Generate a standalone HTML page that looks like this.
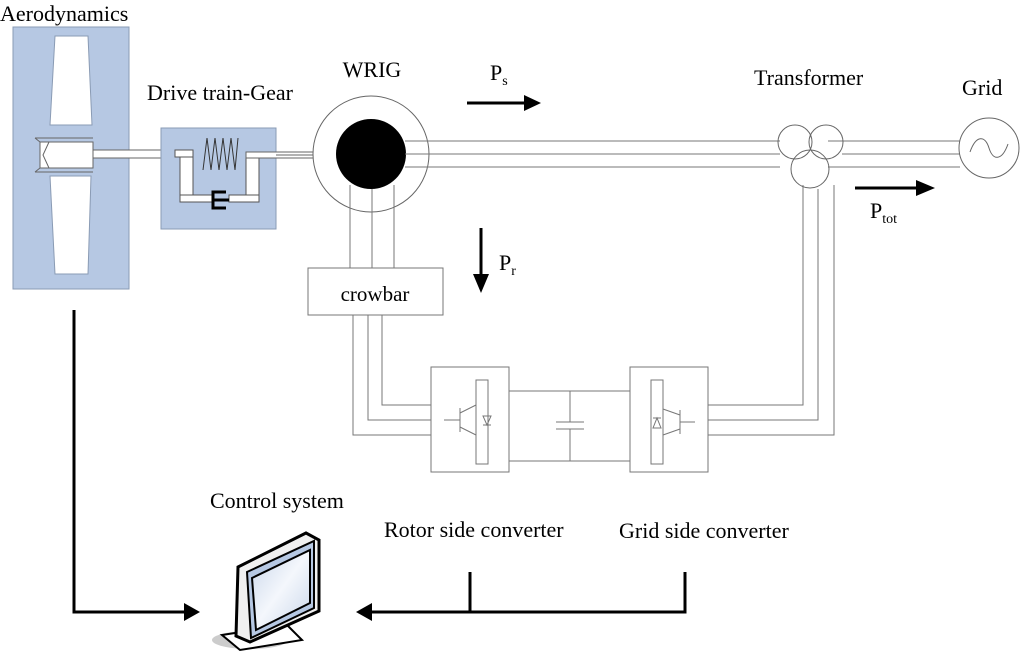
<!DOCTYPE html>
<html><head><meta charset="utf-8"><style>
html,body{margin:0;padding:0;background:#fff}
svg{display:block}
text{font-family:"Liberation Serif",serif;fill:#000}
</style></head><body>
<svg width="1024" height="659" viewBox="0 0 1024 659" xmlns="http://www.w3.org/2000/svg">
<defs>
<linearGradient id="scr" x1="0" y1="0" x2="1" y2="1"><stop offset="0" stop-color="#c9d6ea"/><stop offset="0.5" stop-color="#f4f7fc"/><stop offset="1" stop-color="#c9d6ea"/></linearGradient>
</defs>
<!-- Aerodynamics -->
<rect x="13" y="27" width="116" height="262" fill="#b6c8e3" stroke="#8a9bb4" stroke-width="1"/>
<polygon points="55,36 88,36 92,125 50,125" fill="#fff" stroke="#8a9bb4"/>
<polygon points="50,176 91,176 88,274 55,274" fill="#fff" stroke="#8a9bb4"/>
<rect x="35" y="138" width="58" height="34" fill="#b6c8e3" stroke="none"/>
<rect x="40" y="142" width="53" height="26" fill="#fff" stroke="#666"/>
<polyline points="49,142 43,155 49,168" fill="none" stroke="#666"/>
<line x1="35" y1="138" x2="93" y2="138" stroke="#666"/>
<line x1="35" y1="172" x2="93" y2="172" stroke="#666"/>
<line x1="35" y1="138" x2="40" y2="142" stroke="#666"/>
<line x1="35" y1="172" x2="40" y2="168" stroke="#666"/>
<!-- shaft -->
<rect x="93" y="150" width="98" height="8" fill="#fff" stroke="#666"/>
<!-- Drive train -->
<rect x="161" y="128" width="115" height="101" fill="#b6c8e3" stroke="#8a9bb4"/>
<rect x="180" y="150" width="13" height="46" fill="#fff" stroke="#555"/>
<rect x="246" y="153" width="13" height="43" fill="#fff" stroke="#555"/>
<rect x="180" y="195" width="33" height="7" fill="#fff" stroke="#555"/>
<rect x="229" y="195" width="30" height="7" fill="#fff" stroke="#555"/>
<rect x="175" y="150" width="18" height="7" fill="#fff" stroke="#555"/>
<polyline points="203,170 207,138 211,170 215,138 219,170 223,138 227,170 231,138 235,170 238,138" fill="none" stroke="#333"/>
<path d="M226,192 H213 V208 H226 M213,200 H229" fill="none" stroke="#000" stroke-width="3"/>
<rect x="246" y="152" width="70" height="6" fill="#fff" stroke="#666"/>
<line x1="276" y1="155" x2="338" y2="155" stroke="#666"/>
<!-- WRIG -->
<circle cx="371" cy="154" r="58" fill="#fff" stroke="#666"/>
<circle cx="371" cy="154" r="35" fill="#000"/>
<g stroke="#777" stroke-width="1" fill="none">
<line x1="405" y1="141" x2="780" y2="141"/>
<line x1="405" y1="154" x2="780" y2="154"/>
<line x1="405" y1="167" x2="780" y2="167"/>
<line x1="828" y1="141" x2="960" y2="141"/>
<line x1="842" y1="154" x2="960" y2="154"/>
<line x1="828" y1="167" x2="960" y2="167"/>
<line x1="350" y1="185" x2="350" y2="268"/>
<line x1="372" y1="189" x2="372" y2="268"/>
<line x1="394" y1="185" x2="394" y2="268"/>
<polyline points="353,315 353,435 431,435"/>
<polyline points="368,315 368,420 431,420"/>
<polyline points="382,315 382,405 431,405"/>
<line x1="509" y1="391" x2="630" y2="391"/>
<line x1="509" y1="461" x2="630" y2="461"/>
<line x1="570" y1="391" x2="570" y2="422"/>
<line x1="570" y1="429" x2="570" y2="461"/>
<line x1="556" y1="422" x2="584" y2="422"/>
<line x1="556" y1="429" x2="584" y2="429"/>
<polyline points="708,405 803,405 803,185"/>
<polyline points="708,420 818,420 818,189"/>
<polyline points="708,435 834,435 834,185"/>
</g>
<!-- Transformer -->
<g fill="none" stroke="#666">
<circle cx="795" cy="142" r="17"/>
<circle cx="826" cy="142" r="17"/>
<circle cx="810" cy="169" r="19"/>
<circle cx="989" cy="148" r="30"/>
<path d="M970,152 C976,135 985,135 989,148 C993,161 1002,161 1008,144"/>
</g>
<!-- crowbar -->
<rect x="308" y="268" width="135" height="47" fill="#fff" stroke="#777"/>
<text x="375" y="301" font-size="21" text-anchor="middle">crowbar</text>
<!-- converters -->
<g fill="none" stroke="#777">
<rect x="431" y="367" width="78" height="105" fill="#fff"/>
<rect x="476" y="380" width="12" height="84"/>
<line x1="444" y1="420" x2="460" y2="420"/>
<line x1="460" y1="408" x2="460" y2="432"/>
<line x1="460" y1="413" x2="476" y2="405"/>
<line x1="460" y1="427" x2="476" y2="435"/>
<polygon points="483,416 491,416 487,425"/>
<line x1="483" y1="425" x2="491" y2="425"/>
<rect x="630" y="367" width="78" height="105" fill="#fff"/>
<rect x="651" y="380" width="12" height="84"/>
<line x1="680" y1="422" x2="695" y2="422"/>
<line x1="680" y1="410" x2="680" y2="434"/>
<line x1="680" y1="415" x2="663" y2="409"/>
<line x1="680" y1="429" x2="663" y2="435"/>
<polygon points="653,428 661,428 657,418"/>
<line x1="653" y1="418" x2="661" y2="418"/>
</g>
<!-- power arrows -->
<line x1="467" y1="103" x2="526" y2="103" stroke="#000" stroke-width="3"/>
<polygon points="524,95 541,103 524,111" fill="#000"/>
<line x1="481" y1="228" x2="481" y2="276" stroke="#000" stroke-width="3"/>
<polygon points="473,274 481,293 489,274" fill="#000"/>
<line x1="855" y1="188" x2="918" y2="188" stroke="#000" stroke-width="3"/>
<polygon points="916,180 935,188 916,196" fill="#000"/>
<!-- control lines -->
<g stroke="#000" stroke-width="3" fill="none">
<polyline points="74,310 74,612 186,612"/>
<line x1="470" y1="572" x2="470" y2="612"/>
<polyline points="685,572 685,612 370,612"/>
</g>
<polygon points="184,603 200,612 184,621" fill="#000"/>
<polygon points="372,603 356,612 372,621" fill="#000"/>
<!-- monitor -->
<ellipse cx="250" cy="640" rx="38" ry="9" fill="#ccc"/>
<polygon points="222,635 287,625 302,640 240,650" fill="#fff" stroke="#000" stroke-width="2"/>
<polygon points="238,567 306,533 319,540 319,611 250,642 236,636" fill="#f0f0f0" stroke="#000" stroke-width="3"/>
<polygon points="247,572 314,541 314,608 251,638" fill="#b6c8e3" stroke="#000" stroke-width="2"/>
<polygon points="252,578 310,550 310,603 256,630" fill="url(#scr)" stroke="#000" stroke-width="2"/>
<!-- labels -->
<text x="0" y="21" font-size="22">Aerodynamics</text>
<text x="147" y="100" font-size="22">Drive train-Gear</text>
<text x="372" y="77" font-size="22" text-anchor="middle">WRIG</text>
<text x="490" y="80" font-size="22">P<tspan font-size="14" dy="5">s</tspan></text>
<text x="499" y="270" font-size="22">P<tspan font-size="14" dy="5">r</tspan></text>
<text x="870" y="218" font-size="22">P<tspan font-size="14" dy="5">tot</tspan></text>
<text x="754" y="85" font-size="22">Transformer</text>
<text x="962" y="95" font-size="22">Grid</text>
<text x="210" y="508" font-size="22">Control system</text>
<text x="384" y="537" font-size="22">Rotor side converter</text>
<text x="619" y="538" font-size="22">Grid side converter</text>
</svg>
</body></html>
